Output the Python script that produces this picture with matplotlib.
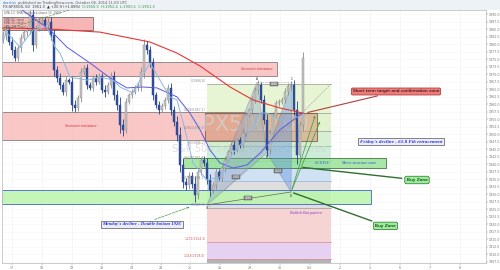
import matplotlib.pyplot as plt
from matplotlib.patches import Rectangle, Polygon

# hourly closes (SPX500, 60), first open given separately
first_open = 1981.5
closes = [1983.1, 1984.8, 1980.8, 1978.1, 1975.5, 1978.8, 1982.1, 1984.1, 1984.8, 1989.8,
          1979.8, 1985.5, 1987.5, 1988.1, 1986.5, 1987.5, 1983.1, 1971.5, 1968.8, 1966.5,
          1964.1, 1968.1, 1967.5, 1959.8, 1958.8, 1962.1, 1970.8, 1972.1, 1966.5, 1965.5,
          1968.8, 1967.5, 1969.5, 1964.8, 1964.1, 1966.5, 1969.5, 1963.1, 1959.8, 1953.1,
          1951.5, 1960.8, 1963.1, 1964.1, 1965.5, 1966.1, 1970.8, 1979.8, 1978.1, 1974.1,
          1963.1, 1959.8, 1958.1, 1959.5, 1961.5, 1965.5, 1958.1, 1954.1, 1949.8, 1939.8,
          1934.1, 1933.1, 1936.1, 1933.5, 1929.8, 1937.5, 1941.5, 1940.5, 1934.8, 1931.5,
          1933.1, 1937.5, 1935.5, 1938.8, 1941.5, 1944.1, 1946.5, 1944.8, 1948.1, 1946.5,
          1950.5, 1956.5, 1958.1, 1961.5, 1964.8, 1966.5, 1961.5, 1954.8, 1944.8, 1950.5,
          1956.5, 1960.5, 1960.8, 1961.5, 1964.1, 1966.1, 1966.5, 1958.1, 1943.1, 1953.1,
          1975.5]
wicks = [1.2, 1.5, 1.0, 1.8, 1.2, 1.0, 1.5, 0.8, 1.2, 1.5,
         2.0, 1.0, 1.2, 0.8, 1.0, 1.3, 1.5, 2.0, 1.2, 1.5,
         1.0, 1.2, 0.8, 2.0, 1.5, 1.0, 1.2, 1.0, 1.5, 0.8,
         1.0, 1.2, 0.8, 1.0, 1.5, 0.8, 1.2, 1.5, 1.8, 2.5,
         2.0, 1.2, 0.8, 1.0, 0.8, 1.2, 1.5, 2.0, 1.2, 1.5,
         1.5, 1.0, 1.2, 0.8, 1.0, 1.2, 1.5, 1.2, 2.0, 2.5,
         2.0, 1.5, 1.2, 1.5, 2.5, 1.2, 1.0, 1.2, 1.5, 2.0,
         1.0, 1.2, 0.8, 1.0, 1.2, 0.8, 1.0, 1.2, 0.8, 1.0,
         1.2, 1.0, 0.8, 1.2, 1.0, 1.5, 1.0, 1.5, 2.0, 1.2,
         1.0, 0.8, 1.0, 0.8, 1.2, 1.0, 1.2, 1.5, 3.0, 1.5,
         2.0]

# moving averages
sma200_x = [-0.33, 15.7, 32.3, 49, 58, 65.7, 75.7, 83.3, 92.3, 100]
sma200_y = [1985.5, 1985.1, 1984.1, 1980.8, 1977.1, 1972.8, 1965.8, 1961.5, 1958.8, 1957.1]
sma50_x = [6.3, 15.7, 21.3, 29, 35.7, 41.3, 46.7, 51.3, 58, 62.3, 65.7, 69, 72.3, 76.7,
           81.3, 85.7, 92.3, 96.7, 100]
sma50_y = [1991.5, 1984.8, 1979.1, 1973.8, 1968.8, 1965.5, 1965.8, 1965.5, 1962.5, 1957.1,
           1951.5, 1944.8, 1940.5, 1938.8, 1939.8, 1943.8, 1951.5, 1954.8, 1957.1]
sma20_x = [0, 1.33, 5.67, 10, 14.67, 17.33, 19, 22.33, 28, 32.33, 36.67, 39, 43.33, 45.67,
           49, 52.33, 55.67, 58, 60.67, 63.33, 68, 72.33, 76.67, 81.33, 85.67, 88, 92.33,
           96.67, 99]
sma20_y = [1981.5, 1983.8, 1979.1, 1984.8, 1985.8, 1979.1, 1977.1, 1969.1, 1968.1, 1969.1,
           1968.1, 1965.8, 1963.8, 1968.1, 1973.8, 1968.1, 1962.5, 1961.5, 1951.5, 1940.5,
           1934.8, 1935.8, 1943.8, 1949.1, 1957.1, 1957.1, 1954.8, 1955.8, 1955.8]

# fibonacci retracement
fib_x0, fib_x1 = 68, 109.33
fib_p0, fib_p1 = 1966.8, 1925.5
fib_levels = [0, 0.236, 0.382, 0.5, 0.618, 0.786, 1, 1.272, 1.414]
fib_colors = ['#e7f5d4', '#e2f2cf', '#d6efd2', '#cdecd9', '#cfe1f3', '#dedede',
              '#f6d4d4', '#e6d1f3']
fib_line_colors = ['#9a9a9a', '#9a9a9a', '#9a9a9a', '#8fbf8f', '#8fbf8f', '#8fb4e0',
                   '#9a9a9a', '#e08a8a', '#e08a8a']

# bat pattern points X A B C D
pat_x = [68, 84.67, 88, 96.33, 96]
pat_y = [1926.5, 1967.5, 1943.8, 1967.5, 1930.8]
pat_names = ['X', 'A', 'B', 'C', 'D']

day_ticks = [3, 13, 23, 33, 43, 52.7, 62.3, 72.3, 82.3, 92.3, 102.3, 112.3, 122.3,
             132.3, 142.3, 152.3]
day_labels = ['17', '18', '19', '22', '23', '24', '25', '26', '29', '30', 'Oct', '2',
              '3', '6', '7', '8']

fig = plt.figure(figsize=(5, 2.7), dpi=100)
fig.patch.set_facecolor('white')
ax = fig.add_axes([0.004, 0.0259, 0.968, 0.9371])
ax.set_xlim(-0.333, 161)
ax.set_ylim(1907.13, 1991.47)

serif = ['Liberation Serif', 'DejaVu Serif']

# header strip
fig.patches.append(Rectangle((0, 1 - 9.5 / 270), 1, 9.5 / 270, transform=fig.transFigure,
                             facecolor='#eef1f5', edgecolor='none', zorder=0))
fig.text(0.006, 1 - 2.6 / 270, 'chartist', fontsize=2.6, color='#3b6fc4', va='center')
fig.text(0.035, 1 - 2.6 / 270, 'published on TradingView.com, October 06, 2014 11:00 UTC',
         fontsize=2.6, color='#555555', va='center')
fig.text(0.006, 1 - 6.6 / 270, 'FX:SPX500, 60  1951.3  \u25b2 +20.9 (+1.08%)',
         fontsize=2.6, color='#333333', va='center')
fig.text(0.165, 1 - 6.6 / 270, 'O:1950.5  H:1952.4  L:1950.1  C:1951.3',
         fontsize=2.6, color='#2a9a3a', va='center')

# grid
for t in day_ticks:
    ax.axvline(t, color='#f1f1f1', lw=0.5, zorder=0)
yt = [1907.5 + 2.5 * k for k in range(34)]
for t in yt:
    ax.axhline(t, color='#f5f5f5', lw=0.4, zorder=0)

# fib bands
for k in range(len(fib_levels) - 1):
    top = fib_p0 - fib_levels[k] * (fib_p0 - fib_p1)
    bot = fib_p0 - fib_levels[k + 1] * (fib_p0 - fib_p1)
    ax.add_patch(Rectangle((fib_x0, bot), fib_x1 - fib_x0, top - bot,
                           facecolor=fib_colors[k], edgecolor='none', zorder=0.5))
last = fib_p0 - fib_levels[-1] * (fib_p0 - fib_p1)
ax.add_patch(Rectangle((fib_x0, 1907.13), fib_x1 - fib_x0, last - 1907.13,
                       facecolor='#b4b4b4', edgecolor='none', zorder=0.5))
for lv, lc in zip(fib_levels, fib_line_colors):
    p = fib_p0 - lv * (fib_p0 - fib_p1)
    ax.plot([fib_x0, fib_x1], [p, p], color=lc, lw=0.5, zorder=0.6)
    ax.text(fib_x0 - 0.5, p + 0.3, '%g(%.1f)' % (lv, p), fontsize=2.2,
            color=('#d06060' if lv > 1 else '#8a8a8a'), ha='right', va='bottom', zorder=5)
ax.plot([fib_x0, fib_x1], [fib_p1, fib_p0], color='#a0a0a0', lw=0.4, ls='--', zorder=0.7)

# zones
ax.add_patch(Rectangle((-0.33, 1984.8), 30.33, 4.3, facecolor='#f6a9a9', alpha=0.85,
                       edgecolor='#555555', lw=0.6, zorder=1))
ax.add_patch(Rectangle((-0.33, 1969.5), 91.6, 4.6, facecolor='#f9b9b9', alpha=0.8,
                       edgecolor='#666666', lw=0.6, zorder=1))
ax.add_patch(Rectangle((-0.33, 1948.1), 81, 9.4, facecolor='#f9b9b9', alpha=0.8,
                       edgecolor='#666666', lw=0.6, zorder=1))
ax.add_patch(Rectangle((67.3, 1947.8), 37.3, 9.3, facecolor='#d99a78', alpha=0.6,
                       edgecolor='#5a3a2a', lw=0.8, zorder=1.2))
ax.add_patch(Rectangle((-0.33, 1926.8), 123, 4.7, facecolor='#b9f5ab', alpha=0.85,
                       edgecolor='#3f5fd0', lw=0.7, zorder=1))
ax.add_patch(Rectangle((60, 1938.8), 67.7, 3.3, facecolor='#93e293', alpha=0.8,
                       edgecolor='#3a6a3a', lw=0.7, zorder=1.3))

ax.text(84.7, 1971.8, 'Structure resistance', fontsize=2.8, color='#d02020',
        style='italic', family=serif, ha='center', va='center', zorder=5)
ax.text(26, 1952.8, 'Structure resistance', fontsize=2.8, color='#d02020',
        style='italic', family=serif, ha='center', va='center', zorder=5)
ax.text(106.3, 1940.5, '61.8 Fib', fontsize=2.8, color='#3050d0', style='italic',
        family=serif, ha='center', va='center', zorder=5)
ax.text(118.5, 1940.6, 'Minor structure zone', fontsize=3.0, color='#3050d0',
        style='italic', family=serif, ha='center', va='center', zorder=5)

# watermark
ax.text(82, 1953.1, 'SPX500, 60', fontsize=15, color='#d2d2d2', alpha=0.7,
        ha='center', va='center', zorder=1.5)
ax.text(82, 1945.0, 'S&P 500 Index, Unlisted Shares', fontsize=7, color='#d2d2d2',
        alpha=0.7, ha='center', va='center', zorder=1.5)

# bat pattern
ax.add_patch(Polygon([(pat_x[0], pat_y[0]), (pat_x[1], pat_y[1]), (pat_x[2], pat_y[2])],
                     closed=True, facecolor='#8aa3c4', alpha=0.4, edgecolor='#6a6a8a',
                     lw=0.5, zorder=2.5))
ax.add_patch(Polygon([(pat_x[2], pat_y[2]), (pat_x[3], pat_y[3]), (pat_x[4], pat_y[4])],
                     closed=True, facecolor='#5d8fe0', alpha=0.4, edgecolor='#5a6a9a',
                     lw=0.5, zorder=2.5))
ax.plot([pat_x[0], pat_x[4]], [pat_y[0], pat_y[4]], color='#666666', lw=0.5, zorder=2.6)
ax.plot([pat_x[1], pat_x[3]], [pat_y[1], pat_y[3]], color='#777777', lw=0.4, ls=':',
        zorder=2.6)
for name, px, py in zip(pat_names, pat_x, pat_y):
    off = 0.9 if name in ('A', 'C') else -1.2
    ax.text(px, py + off, name, fontsize=2.2, color='#333333', ha='center', va='center',
            zorder=5)
ratio_box = dict(boxstyle='square,pad=0.15', facecolor='#8a8a8a', edgecolor='#444444',
                 lw=0.3)
for (rx, ry, rt) in [(77.7, 1935.8, '0.382'), (90.3, 1966.8, '0.886'),
                     (91.7, 1937.8, '1.618'), (81.7, 1928.8, '0.886')]:
    ax.text(rx, ry, rt, fontsize=1.8, color='white', ha='center', va='center',
            bbox=ratio_box, zorder=5)

# green arrows from D
for ex, ey in [(104.3, 1957.1), (106, 1955.1)]:
    ax.annotate('', xy=(ex, ey), xytext=(pat_x[4], pat_y[4]),
                arrowprops=dict(arrowstyle='->', color='#3a9a3a', lw=0.5,
                                mutation_scale=3), zorder=4.5)

# candles
opens = [first_open] + closes[:-1]
for i, (o, c, w) in enumerate(zip(opens, closes, wicks)):
    up = c >= o
    col = '#c2c2c2' if up else '#2f4f9f'
    ec = '#8c8c8c' if up else '#243f85'
    ax.vlines(i, min(o, c) - w, max(o, c) + w, color=ec, lw=0.6, zorder=3)
    ax.bar(i, max(abs(c - o), 0.3), bottom=min(o, c), width=0.9, color=col,
           edgecolor=ec, lw=0.3, zorder=3.1)

# moving averages
ax.plot(sma200_x, sma200_y, color='#e83535', lw=0.8, zorder=4)
ax.plot(sma50_x, sma50_y, color='#5b5bdf', lw=0.7, zorder=4)
ax.plot(sma20_x, sma20_y, color='#8ab8e6', lw=0.7, zorder=4)
ax.plot([0, 22.3], [1984.8, 1991.5], color='#4a9a4a', lw=0.5, ls='--', zorder=4)

# legend-ish text top left
ax.text(0.5, 1990.3, 'LMA 1.0  SMA (Indicated shares 10, 1000)', fontsize=2.0,
        color='#666666', va='center', zorder=5)
for k, t in enumerate(['SMA (50, close)', 'SMA (20, close)', 'SMA (200, close)']):
    ax.text(0.5, 1988.2 - 1.2 * k, t, fontsize=1.9, color='#555555', va='center', zorder=5)

# callouts
ax.annotate('Short term target and confirmation zone', xy=(100.7, 1957.1),
            xytext=(131, 1964.3), fontsize=3.1, color='black', ha='center', va='center',
            bbox=dict(boxstyle='round,pad=0.35', facecolor='#f07a7a', edgecolor='#a03030',
                      lw=0.5),
            arrowprops=dict(arrowstyle='-', color='#b04040', lw=0.8), zorder=6)
ax.annotate("Friday's decline - 61.8 Fib retracement", xy=(132.7, 1947.5),
            xytext=(132.7, 1947.5), fontsize=3.7, color='#2233dd', weight='bold',
            style='italic', family=serif, ha='center', va='center',
            bbox=dict(boxstyle='square,pad=0.3', facecolor='#ececfa', edgecolor='#555555',
                      lw=0.5), zorder=6)
ax.annotate('Buy Zone', xy=(99, 1939.1), xytext=(138, 1934.8), fontsize=3.2,
            color='black', ha='center', va='center',
            bbox=dict(boxstyle='round,pad=0.4', facecolor='#96ee96', edgecolor='#2a6a2a',
                      lw=0.5),
            arrowprops=dict(arrowstyle='-', color='#2f6f2f', lw=1.0), zorder=6)
ax.annotate('Buy Zone', xy=(96, 1930.8), xytext=(127.5, 1919.5), fontsize=3.2,
            color='black', ha='center', va='center',
            bbox=dict(boxstyle='round,pad=0.4', facecolor='#96ee96', edgecolor='#2a6a2a',
                      lw=0.5),
            arrowprops=dict(arrowstyle='-', color='#2f6f2f', lw=1.0), zorder=6)
ax.annotate("Monday's decline - Double bottom 1926", xy=(63, 1926.1),
            xytext=(46.3, 1920.1), fontsize=3.4, color='#2233dd', weight='bold',
            style='italic', family=serif, ha='center', va='center',
            bbox=dict(boxstyle='square,pad=0.3', facecolor='#ececfa', edgecolor='#555555',
                      lw=0.5),
            arrowprops=dict(arrowstyle='->', color='#4a9a4a', lw=0.5, ls='--',
                            mutation_scale=3), zorder=6)
ax.text(101, 1923.8, 'Bullish Bat pattern', fontsize=3.1, color='#7a3ad0',
        style='italic', family=serif, ha='center', va='center', zorder=5)

# axes styling
ax.yaxis.tick_right()
ax.set_yticks(yt)
ax.set_yticklabels(['%.1f' % v for v in yt])
ax.set_xticks(day_ticks)
ax.set_xticklabels(day_labels)
ax.tick_params(axis='both', labelsize=2.3, colors='#777777', length=1.2, width=0.3,
               pad=0.8)
for s in ax.spines.values():
    s.set_color('#c4c4c4')
    s.set_linewidth(0.6)

fig.savefig('out.png', dpi=100)
